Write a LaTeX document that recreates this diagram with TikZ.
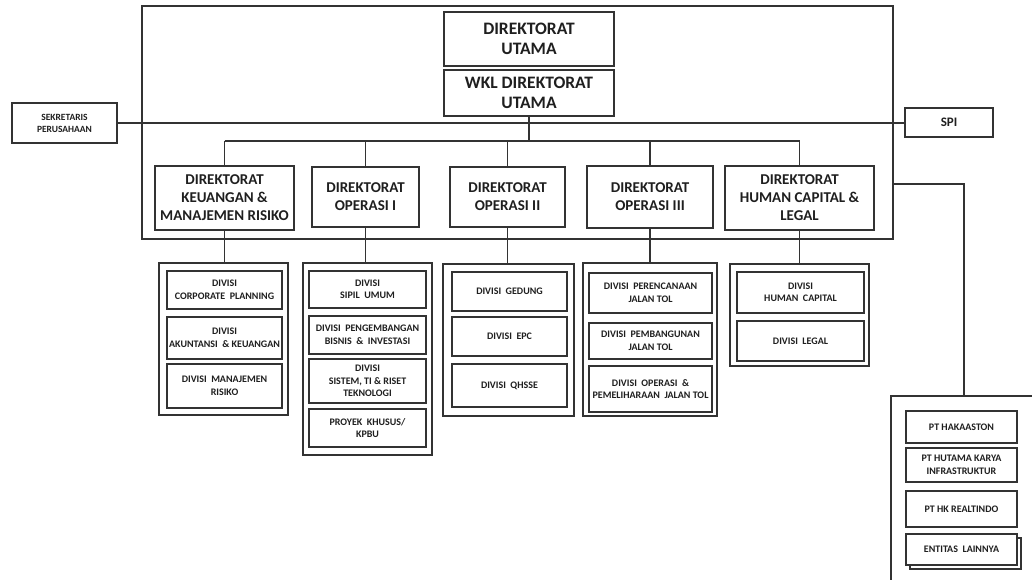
\documentclass[tikz,border=0pt]{standalone}
\usepackage{fontspec}
\setmainfont{Carlito}
\newcommand{\boxat}[7]{%
  \node[#1, minimum width={(#5)-(#3)}, minimum height={(#6)-(#4)}] (#2) at ({((#3)+(#5))/2},{((#4)+(#6))/2}) {#7};}
\begin{document}
\begin{tikzpicture}[x=1pt,y=-1pt,
  ln/.style={draw=black!80, line width=1.5pt},
  box/.style={draw=black!80, line width=1.6pt, fill=white, align=center, inner sep=1pt, outer sep=0pt, text=black!88, font=\bfseries},
  topbox/.style={box, font=\bfseries\fontsize{17.5}{20}\selectfont},
  dirbox/.style={box, font=\bfseries\fontsize{15}{18}\selectfont},
  divbox/.style={box, font=\bfseries\fontsize{10}{12.5}\selectfont},
  grpbox/.style={draw=black!80, line width=1.6pt, fill=white, outer sep=0pt, inner sep=0pt},
  sidebox/.style={box, font=\bfseries\fontsize{9.5}{12}\selectfont},
  spibox/.style={box, font=\bfseries\fontsize{13}{15}\selectfont}]
\useasboundingbox (0,0) rectangle (1032,580);
\fill[white] (0,0) rectangle (1032,580);

% main frame
\boxat{grpbox, fill=none}{frame}{142}{6}{893}{239}{}

% top boxes
\boxat{topbox}{du}{444}{12}{614}{66}{DIREKTORAT\\UTAMA}
\boxat{topbox}{wkl}{444}{70}{614}{116}{WKL DIREKTORAT\\UTAMA}

% side boxes
\boxat{sidebox}{sek}{12}{103}{117}{143}{SEKRETARIS\\PERUSAHAAN}
\boxat{spibox}{spi}{905}{108}{993}{137}{SPI}

% directorates
\boxat{dirbox}{d1}{155}{166}{294}{230}{DIREKTORAT\\KEUANGAN \&\\MANAJEMEN RISIKO}
\boxat{dirbox}{d2}{312}{167}{419}{227}{DIREKTORAT\\OPERASI I}
\boxat{dirbox}{d3}{450}{167}{565}{227}{DIREKTORAT\\OPERASI II}
\boxat{dirbox}{d4}{587}{166}{713}{228}{DIREKTORAT\\OPERASI III}
\boxat{dirbox}{d5}{725}{166}{874}{230}{DIREKTORAT\\HUMAN CAPITAL \&\\LEGAL}

% group containers
\boxat{grpbox}{g1}{159}{263}{288}{415}{}
\boxat{grpbox}{g2}{303}{263}{432}{455}{}
\boxat{grpbox}{g3}{443}{264}{574}{416}{}
\boxat{grpbox}{g4}{583}{263}{717}{416}{}
\boxat{grpbox}{g5}{730}{264}{869}{366}{}

% group 1
\boxat{divbox}{a1}{167}{271}{282}{309}{DIVISI\\CORPORATE\ \ PLANNING}
\boxat{divbox}{a2}{167}{317}{282}{359}{DIVISI\\AKUNTANSI\ \ \& KEUANGAN}
\boxat{divbox}{a3}{167}{364}{282}{408}{DIVISI\ \ MANAJEMEN\\RISIKO}

% group 2
\boxat{divbox}{b1}{309}{271}{426}{308}{DIVISI\\SIPIL\ \ UMUM}
\boxat{divbox}{b2}{309}{316}{426}{354}{DIVISI\ \ PENGEMBANGAN\\BISNIS\ \ \&\ \ INVESTASI}
\boxat{divbox}{b3}{309}{359}{426}{403}{DIVISI\\SISTEM, TI \& RISET\\TEKNOLOGI}
\boxat{divbox}{b4}{309}{409}{426}{447}{PROYEK\ \ KHUSUS/\\KPBU}

% group 3
\boxat{divbox}{c1}{452}{272}{567}{311}{DIVISI\ \ GEDUNG}
\boxat{divbox}{c2}{452}{317}{567}{356}{DIVISI\ \ EPC}
\boxat{divbox}{c3}{452}{364}{567}{407}{DIVISI\ \ QHSSE}

% group 4
\boxat{divbox}{e1}{589}{273}{712}{313}{DIVISI\ \ PERENCANAAN\\JALAN TOL}
\boxat{divbox}{e2}{589}{323}{712}{359}{DIVISI\ \ PEMBANGUNAN\\JALAN TOL}
\boxat{divbox}{e3}{589}{366}{712}{412}{DIVISI\ \ OPERASI\ \ \&\\PEMELIHARAAN\ \ JALAN TOL}

% group 5
\boxat{divbox}{f1}{737}{272}{864}{313}{DIVISI\\HUMAN\ \ CAPITAL}
\boxat{divbox}{f2}{737}{321}{864}{361}{DIVISI\ \ LEGAL}

% group 6 (open container, cut by the page edge)
\coordinate (g6tl) at (891,396);
\draw[ln, line width=1.6pt] (1034,396) -- (g6tl) -- (891,582);
\boxat{divbox}{h1}{906}{411}{1017}{443}{PT HAKAASTON}
\boxat{divbox}{h2}{906}{448}{1017}{482}{PT HUTAMA KARYA\\INFRASTRUKTUR}
\boxat{divbox}{h3}{906}{491}{1017}{527}{PT HK REALTINDO}
\boxat{grpbox}{h4s}{910}{538}{1021}{569}{}
\boxat{divbox}{h4}{906}{534}{1017}{565}{ENTITAS\ \ LAINNYA}

% connectors
\draw[ln] (sek.east) -- (sek.east -| spi.west);
\coordinate (bus) at (529,141);
\draw[ln] (wkl.south -| bus) -- (bus);
\draw[ln] (d1.north |- bus) -- (d5.north |- bus);
\foreach \d in {d1,d2,d3,d4,d5}
  \draw[ln] (\d.north |- bus) -- (\d.north);
\draw[ln] (d1.south) -- (d1.south |- g1.north);
\draw[ln] (d2.south) -- (d2.south |- g2.north);
\draw[ln] (d3.south) -- (d3.south |- g3.north);
\draw[ln] (d4.south) -- (d4.south |- g4.north);
\draw[ln] (d5.south) -- (d5.south |- g5.north);
\coordinate (rj) at (964,184);
\draw[ln] (frame.east |- rj) -- (rj) -- (rj |- g6tl);
\end{tikzpicture}
\end{document}
